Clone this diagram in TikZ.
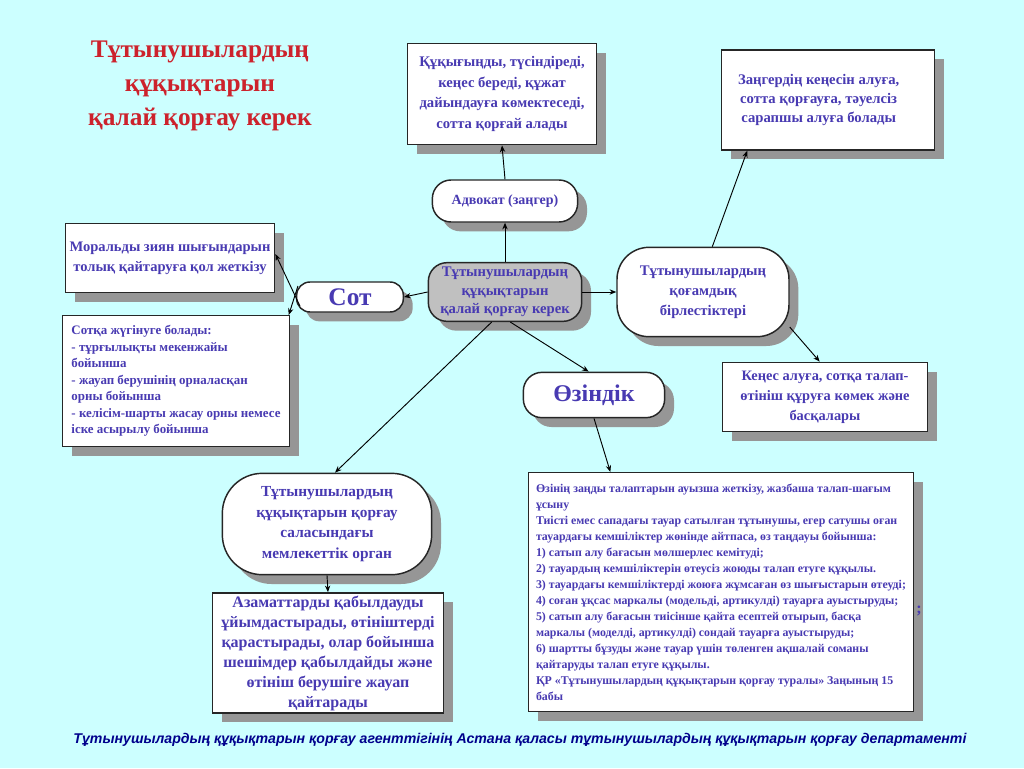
\documentclass[tikz,border=0pt]{standalone}
\usepackage{fontspec}
\setmainfont{Liberation Serif}
\newfontfamily\footfont{Liberation Sans}
\usetikzlibrary{arrows.meta,shadows}

\definecolor{bgcyan}{RGB}{204,255,255}
\definecolor{inkblue}{RGB}{72,58,178}
\definecolor{titlered}{RGB}{204,34,44}
\definecolor{footblue}{RGB}{0,0,140}
\definecolor{shadowgrey}{RGB}{150,150,150}
\definecolor{hubgrey}{RGB}{192,192,192}

\tikzset{
  box/.style={draw=black!85, line width=1.1pt, fill=white, align=center, text=inkblue,
    inner sep=2pt, drop shadow={shadow xshift=7pt, shadow yshift=-7pt, fill=shadowgrey, opacity=1}},
  pill/.style={box, rounded corners=14pt},
  arr/.style={-{Stealth[length=5pt,width=4pt]}, line width=0.7pt, black},
}

\begin{document}
\begin{tikzpicture}[x=0.75pt,y=0.75pt,yscale=-1]

% background
\fill [bgcyan] (0,0) rectangle (1024,768);
\useasboundingbox (0,0) rectangle (1024,768);

% Title
\node [font=\bfseries\fontsize{19}{25.5}\selectfont, text=titlered, align=center] (title) at (200,86) {Тұтынушылардың\\құқықтарын\\қалай қорғау керек};

% Centre
\node [pill, fill=hubgrey, minimum width=115pt, minimum height=44pt, font=\bfseries\fontsize{11}{14}\selectfont] (hub) at (505,292) {Тұтынушылардың\\құқықтарын\\қалай қорғау керек};

% Top branch
\node [pill, minimum width=109pt, minimum height=31.5pt, font=\bfseries\fontsize{10.5}{13}\selectfont] (lawyer) at (505,201) {Адвокат (заңгер)};
\node [box, minimum width=142pt, minimum height=76pt, font=\bfseries\fontsize{11}{15.5}\selectfont] (lawyerinfo) at (502,94) {Құқығыңды, түсіндіреді,\\кеңес береді, құжат\\дайындауға көмектеседі,\\сотта қорғай алады};

% Left branch
\node [pill, minimum width=80pt, minimum height=22.5pt, rounded corners=10pt, font=\bfseries\fontsize{19}{22}\selectfont] (court) at (350,297) {Сот};
\node [box, minimum width=157pt, minimum height=52pt, font=\bfseries\fontsize{10.9}{15}\selectfont] (moral) at (170,258) {Моральды зиян шығындарын\\толық қайтаруға қол жеткізу};
\node [box, align=left, minimum width=170pt, minimum height=98pt, font=\bfseries\fontsize{9.7}{12.4}\selectfont] (appeal) at (176,381) {Сотқа жүгінуге болады:\\- тұрғылықты мекенжайы\\бойынша\\- жауап берушінің орналасқан\\орны бойынша\\- келісім-шарты жасау орны немесе\\іске асырылу бойынша};

% Right branch
\node [pill, rounded corners=24pt, minimum width=129pt, minimum height=67pt, font=\bfseries\fontsize{11}{15}\selectfont] (assoc) at (703,292) {Тұтынушылардың\\қоғамдық\\бірлестіктері};
\node [box, minimum width=160pt, minimum height=75pt, font=\bfseries\fontsize{11}{14.5}\selectfont] (associnfo) at (828,100) {\hspace*{-14pt}Заңгердің кеңесін алуға,\\\hspace*{-14pt}сотта қорғауға, тәуелсіз\\\hspace*{-14pt}сарапшы алуға болады};
\node [box, minimum width=154pt, minimum height=52pt, font=\bfseries\fontsize{10.8}{15}\selectfont] (consult) at (825,397) {Кеңес алуға, сотқа талап-\\өтініш құруға көмек және\\басқалары};

% Self-defence branch
\node [pill, minimum width=106pt, minimum height=34pt, font=\bfseries\fontsize{18}{22}\selectfont] (self) at (594,395) {Өзіндік};
\node [box, align=left, minimum width=289pt, minimum height=179pt, font=\bfseries\fontsize{8.9}{12}\selectfont] (selfinfo) at (721,592) {Өзінің заңды талаптарын ауызша жеткізу, жазбаша талап-шағым\\ұсыну\\Тиісті емес сападағы тауар сатылған тұтынушы, егер сатушы оған\\тауардағы кемшіліктер жөнінде айтпаса, өз таңдауы бойынша:\\1) сатып алу бағасын мөлшерлес кемітуді;\\2) тауардың кемшіліктерін өтеусіз жоюды талап етуге құқылы.\\3) тауардағы кемшіліктерді жоюға жұмсаған өз шығыстарын өтеуді;\\4) соған ұқсас маркалы (модельді, артикулді) тауарға ауыстыруды;\\5) сатып алу бағасын тиісінше қайта есептей отырып, басқа\\маркалы (моделді, артикулді) сондай тауарға ауыстыруды;\\6) шартты бұзуды және тауар үшін төленген ақшалай соманы\\қайтаруды талап етуге құқылы.\\ҚР «Тұтынушылардың құқықтарын қорғау туралы» Заңының 15\\бабы};
\node [text=inkblue, font=\bfseries\fontsize{12}{14}\selectfont] (stray) at (919,611) {;};

% State body branch
\node [pill, rounded corners=30pt, minimum width=157pt, minimum height=76pt, font=\bfseries\fontsize{11.5}{15.5}\selectfont] (stateorg) at (327,524) {Тұтынушылардың\\құқықтарын қорғау\\саласындағы\\мемлекеттік орган};
\node [box, minimum width=173pt, minimum height=85pt, font=\bfseries\fontsize{12}{15}\selectfont] (citizens) at (328,653) {Азаматтарды қабылдауды\\ұйымдастырады, өтініштерді\\қарастырады, олар бойынша\\шешімдер қабылдайды және\\өтініш берушіге жауап\\қайтарады};

% Connectors
\draw [arr] (hub.north) -- (lawyer.south);
\draw [arr] (lawyer.north) -- (lawyerinfo.south);
\draw [arr] (hub.west) -- (court.east);
\draw [arr] ([shift={(4,9)}]court.west) -- ([yshift=-3pt]moral.east);
\draw [arr] ([shift={(2,-11)}]court.west) -- ([xshift=-1pt]appeal.north east);
\draw [arr] (hub.east) -- (assoc.west);
\draw [arr] ([xshift=7pt]assoc.north) -- ([xshift=20pt]associnfo.south west);
\draw [arr] (assoc.-22) -- ([xshift=-4pt]consult.north);
\draw [arr] ([xshift=-10pt]hub.south) -- ([xshift=6pt]stateorg.north);
\draw [arr] ([xshift=4pt]hub.south) -- ([xshift=-4pt]self.north);
\draw [arr] (self.south) -- ([xshift=-83pt]selfinfo.north);
\draw [arr] (stateorg.south) -- (citizens.north);

% Footer
\node [text=footblue, font=\footfont\bfseries\itshape\fontsize{10.6}{12}\selectfont] (footer) at (520,740) {Тұтынушылардың құқықтарын қорғау агенттігінің Астана қаласы тұтынушылардың құқықтарын қорғау департаменті};

\end{tikzpicture}
\end{document}
